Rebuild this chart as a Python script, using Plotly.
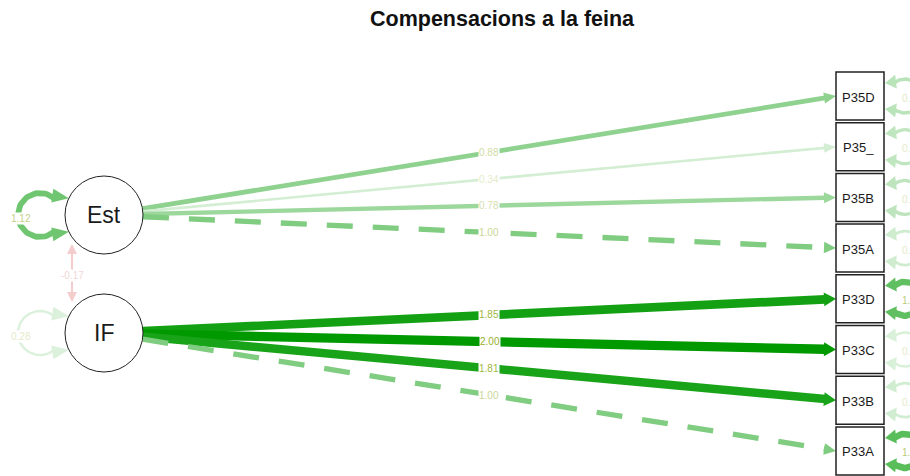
import numpy as np
import plotly.graph_objects as go

# ---------------- data ----------------
title_text = "Compensacions a la feina"
latent = ["Est", "IF"]
latent_var = [1.12, 0.28]
latent_cov = -0.17
manifest = ["P35D", "P35_", "P35B", "P35A", "P33D", "P33C", "P33B", "P33A"]
manifest_factor = ["Est", "Est", "Est", "Est", "IF", "IF", "IF", "IF"]
loadings = [0.88, 0.34, 0.78, 1.00, 1.85, 2.00, 1.81, 1.00]
loading_fixed = [False, False, False, True, False, False, False, True]
residual_var = [0.55, 0.50, 0.52, 0.38, 1.25, 0.30, 0.36, 1.30]

# ---------------- layout / style ----------------
W, H = 910, 476
lat_x, lat_r = 104, 39
lat_y = {"Est": 215, "IF": 333}
box_x0, box_x1, box_h = 836, 884, 48
man_y0, man_dy = 96, 50.7
max_val = 2.0
POS = (0, 153, 0)
NEG = (204, 0, 0)
LAB_POS = (150, 175, 45)
LAB_NEG = (210, 120, 120)
FONT = "Liberation Sans, Arial"


def fade(v, minf=0.0):
    return max(min(1.0, abs(v) / max_val), minf)


def blend(base, f):
    return "rgb(%d,%d,%d)" % tuple(round(255 + (b - 255) * f) for b in base)


def ecol(v, minf=0.0):
    return blend(POS if v >= 0 else NEG, fade(v, minf))


def lcol(v, minf=0.25):
    return blend(LAB_POS if v >= 0 else LAB_NEG, fade(v, minf))


def ewidth(v):
    return 1.3 + 4 * abs(v)


fig = go.Figure()


def add_line(xs, ys, color, width, dash="solid"):
    fig.add_trace(go.Scatter(x=xs, y=ys, mode="lines",
                             line=dict(color=color, width=width, dash=dash),
                             hoverinfo="skip", showlegend=False))


def add_head(tip, u, color, L=12, hw=5):
    tip = np.array(tip, float)
    u = np.array(u, float)
    u = u / np.linalg.norm(u)
    n = np.array([-u[1], u[0]])
    base = tip - L * u
    p1 = base + hw * n
    p2 = base - hw * n
    fig.add_trace(go.Scatter(x=[tip[0], p1[0], p2[0], tip[0]],
                             y=[tip[1], p1[1], p2[1], tip[1]],
                             mode="lines", fill="toself", fillcolor=color,
                             line=dict(width=0, color=color),
                             hoverinfo="skip", showlegend=False))
    return base


annotations = []


def add_label(x, y, text, color, size=10, xanchor="center"):
    annotations.append(dict(x=x, y=y, xref="x", yref="y", text=text, xanchor=xanchor,
                            showarrow=False, bgcolor="white", borderpad=0,
                            font=dict(family=FONT, size=size, color=color)))


# ---- loading edges ----
for i, (m, f, v, fx) in enumerate(zip(manifest, manifest_factor, loadings, loading_fixed)):
    ym = man_y0 + i * man_dy
    c = np.array([lat_x, lat_y[f]], float)
    tip = np.array([box_x0, ym], float)
    u = (tip - c) / np.linalg.norm(tip - c)
    start = c + lat_r * u
    color = ecol(v)
    w = ewidth(v)
    L = 12
    base = tip - L * u
    add_line([start[0], base[0] + 1], [start[1], base[1]], color, w,
             dash="26px,20px" if fx else "solid")
    add_head(tip, u, color, L=L, hw=4 + w / 3)
    mid = (start + tip) / 2
    add_label(mid[0], mid[1], "%.2f" % v, lcol(v))

# ---- latent variance loops (left) ----
for name, v in zip(latent, latent_var):
    yc = lat_y[name]
    cx, r = 40, 22
    th = np.radians(np.linspace(50, 310, 60))
    xs = cx + r * np.cos(th)
    ys = yc - r * np.sin(th)
    color = ecol(v)
    w = ewidth(v)
    add_line(list(xs), list(ys), color, w)
    for k in (0, -1):
        ye = ys[k]
        tipx = lat_x - np.sqrt(lat_r ** 2 - (ye - yc) ** 2)
        add_head((tipx, ye), (1, 0.15 if k == 0 else -0.15), color,
                 L=tipx - xs[k] + 2, hw=7)
    add_label(21, yc + 3, "%.2f" % v, lcol(v))

# ---- covariance ----
cov_x = 72
ctop, cbot = 244, 302
ccol = ecol(latent_cov, 0.2)
cw = ewidth(latent_cov)
add_line([cov_x, cov_x], [ctop + 8, cbot - 8], ccol, cw)
add_head((cov_x, ctop), (0, -1), ccol, L=10, hw=5)
add_head((cov_x, cbot), (0, 1), ccol, L=10, hw=5)
add_label(cov_x, (ctop + cbot) / 2 + 2, "%.2f" % latent_cov, lcol(latent_cov, 0.3))

# ---- residual loops (right) ----
for i, v in enumerate(residual_var):
    yc = man_y0 + i * man_dy
    cx, r = 905, 17
    th = np.radians(np.linspace(130, -130, 50))
    xs = cx + r * np.cos(th)
    ys = yc - r * np.sin(th)
    color = ecol(v)
    w = ewidth(v)
    add_line(list(xs), list(ys), color, w)
    for k in (0, -1):
        add_head((box_x1 + 1, ys[k]), (-1, 0.12 if k == 0 else -0.12), color,
                 L=xs[k] - box_x1 + 1, hw=7)
    add_label(901, yc + 2, "%.2f" % v, lcol(v), xanchor="left")

# ---- nodes ----
shapes = []
for name in latent:
    yc = lat_y[name]
    shapes.append(dict(type="circle", xref="x", yref="y",
                       x0=lat_x - lat_r, x1=lat_x + lat_r, y0=yc - lat_r, y1=yc + lat_r,
                       line=dict(color="#222222", width=1), fillcolor="white", layer="above"))
    annotations.append(dict(x=lat_x, y=yc, xref="x", yref="y", text=name, showarrow=False,
                            font=dict(family=FONT, size=23, color="#1a1a1a")))

for i, m in enumerate(manifest):
    ym = man_y0 + i * man_dy
    shapes.append(dict(type="rect", xref="x", yref="y",
                       x0=box_x0, x1=box_x1, y0=ym - box_h / 2, y1=ym + box_h / 2,
                       line=dict(color="#222222", width=1.5), fillcolor="white", layer="above"))
    annotations.append(dict(x=(box_x0 + box_x1) / 2 - 2, y=ym + 1, xref="x", yref="y", text=m,
                            showarrow=False,
                            font=dict(family=FONT, size=13, color="#1a1a1a")))

annotations.append(dict(x=502, y=19, xref="x", yref="y", text="<b>%s</b>" % title_text,
                        showarrow=False,
                        font=dict(family=FONT, size=21.5, color="#111111")))

fig.update_layout(
    width=W, height=H, margin=dict(l=0, r=0, t=0, b=0),
    paper_bgcolor="white", plot_bgcolor="white",
    xaxis=dict(range=[0, W], visible=False, fixedrange=True),
    yaxis=dict(range=[H, 0], visible=False, fixedrange=True),
    shapes=shapes, annotations=annotations, showlegend=False,
)

fig.write_html("out.html")
